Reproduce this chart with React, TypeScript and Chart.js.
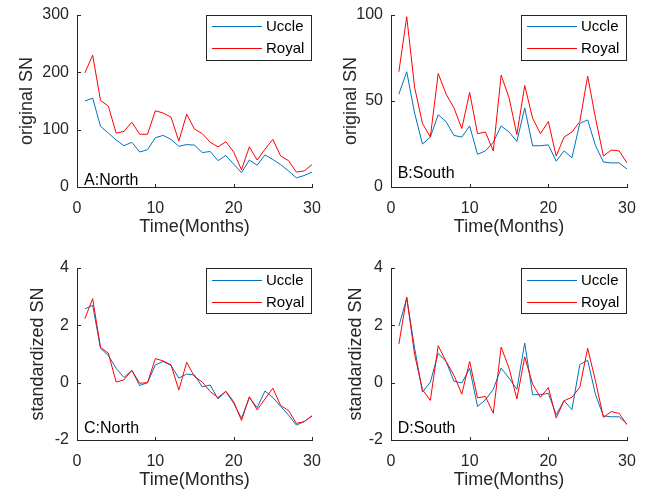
import React, { useEffect, useRef } from 'react';
import { Chart, registerables } from 'chart.js';

Chart.register(...registerables);

const FONT = '"Liberation Sans", Arial, Helvetica, sans-serif';
const AXIS = '#262626';
const BLUE = '#0072BD';
const RED = '#FF0000';

const months = [1, 2, 3, 4, 5, 6, 7, 8, 9, 10, 11, 12, 13, 14, 15, 16, 17, 18, 19, 20, 21, 22, 23, 24, 25, 26, 27, 28, 29, 30];
const seriesNames = ['Uccle', 'Royal'];
const seriesColors = [BLUE, RED];

const northUccleOrig = [150, 155, 106, 94, 82, 72, 78, 61, 65, 86, 90, 83, 71, 74, 73, 60, 62, 46, 55, 40, 25, 47, 38, 56, 48, 39, 28, 16, 20, 26];
const northRoyalOrig = [199, 230, 151, 141, 94, 97, 113, 92, 92, 133, 129, 122, 80, 127, 101, 93, 78, 70, 79, 61, 30, 70, 47, 66, 83, 54, 46, 26, 28, 39];
const southUccleOrig = [54, 67, 43, 25, 29, 42, 38, 30, 29, 35.5, 19, 21, 26, 35.5, 32, 26.5, 46, 24, 24, 24.5, 15, 21, 17, 37, 39, 24, 14.5, 14, 14, 10.5];
const southRoyalOrig = [67, 99, 58, 37, 29, 66, 54, 46, 34, 55, 31, 32, 21, 65, 52, 30.5, 59, 40, 31, 38, 18, 29, 32, 38, 64.5, 40, 18, 21.5, 21, 14];
const northUccleStd = [2.57, 2.7, 1.2, 0.95, 0.5, 0.18, 0.43, -0.1, 0, 0.62, 0.74, 0.6, 0.16, 0.3, 0.27, -0.15, -0.08, -0.57, -0.31, -0.72, -1.24, -0.52, -0.87, -0.29, -0.52, -0.83, -1.13, -1.48, -1.36, -1.16];
const northRoyalStd = [2.23, 2.93, 1.23, 1.03, 0.02, 0.1, 0.43, -0.02, 0, 0.84, 0.76, 0.62, -0.26, 0.71, 0.21, 0.02, -0.31, -0.52, -0.3, -0.66, -1.32, -0.49, -0.95, -0.57, -0.19, -0.8, -0.97, -1.42, -1.36, -1.16];
const southUccleStd = [1.97, 2.95, 1.21, -0.33, 0.02, 1.02, 0.74, 0.05, -0.01, 0.5, -0.83, -0.6, -0.23, 0.51, 0.16, -0.23, 1.38, -0.42, -0.42, -0.37, -1.12, -0.63, -0.94, 0.63, 0.78, -0.42, -1.16, -1.19, -1.19, -1.44];
const southRoyalStd = [1.35, 2.99, 0.98, -0.24, -0.62, 1.29, 0.74, 0.26, -0.4, 0.74, -0.53, -0.48, -1.07, 1.24, 0.51, -0.57, 0.9, -0.05, -0.51, -0.17, -1.23, -0.63, -0.51, -0.16, 1.2, 0.05, -1.21, -1.01, -1.07, -1.47];

const xRange = [0, 30, 10];
const origNorthRange = [0, 300, 100];
const origSouthRange = [0, 100, 50];
const stdRange = [-2, 4, 2];

const decorPlugin = {
  id: 'matlabDecor',
  afterDraw(chart: any, _args: any, opts: any) {
    const { ctx, chartArea, scales } = chart;
    const xs = scales.x;
    const ys = scales.y;
    ctx.save();
    ctx.globalAlpha = 1;
    ctx.fillStyle = AXIS;
    xs.ticks.forEach((t: any) => {
      const px = Math.round(xs.getPixelForValue(t.value));
      ctx.fillRect(px, Math.round(chartArea.bottom) - 3, 1, 3);
    });
    ys.ticks.forEach((t: any) => {
      const py = Math.round(ys.getPixelForValue(t.value));
      ctx.fillRect(Math.round(chartArea.left), py, 4, 1);
    });

    ctx.fillStyle = '#000';
    ctx.font = `16px ${FONT}`;
    ctx.textAlign = 'left';
    ctx.textBaseline = 'alphabetic';
    ctx.fillText(opts.label, xs.getPixelForValue(opts.labelAt[0]), ys.getPixelForValue(opts.labelAt[1]));

    const w = 106;
    const h = 45;
    const left = Math.round(chartArea.right - w);
    const top = Math.round(chartArea.top);
    ctx.fillStyle = '#fff';
    ctx.fillRect(left, top, w, h);
    ctx.fillStyle = AXIS;
    ctx.fillRect(left, top, w, 1);
    ctx.fillRect(left, top + h, w, 1);
    ctx.fillRect(left, top, 1, h + 1);
    ctx.fillRect(left + w - 1, top, 1, h + 1);
    const y0 = top + 11 + (top % 2 === 0 ? 1 : 0);
    for (let i = 0; i < seriesNames.length; i++) {
      const y = y0 + i * 22;
      ctx.fillStyle = seriesColors[i];
      ctx.fillRect(left + 6, y, 50, 1);
      ctx.fillStyle = '#000';
      ctx.font = `15px ${FONT}`;
      ctx.textBaseline = 'middle';
      ctx.fillText(seriesNames[i], left + 60, y + 0.5);
    }
    ctx.restore();
  },
};

type PanelProps = {
  left: number;
  top: number;
  width: number;
  height: number;
  uccle: number[];
  royal: number[];
  yRange: number[];
  yTitle: string;
  label: string;
  labelAt: number[];
  yWidth: number;
  xHeight: number;
  padTop: number;
  padRight: number;
  yTitlePad: number;
  xTitlePad: number;
};

function Panel(p: PanelProps) {
  const ref = useRef<HTMLCanvasElement | null>(null);
  useEffect(() => {
    if (!ref.current) return;
    const chart = new Chart(ref.current, {
      type: 'line',
      data: {
        datasets: [
          {
            label: seriesNames[0],
            data: months.map((m, i) => ({ x: m, y: p.uccle[i] })),
            borderColor: seriesColors[0],
            borderWidth: 1,
            pointRadius: 0,
            tension: 0,
            fill: false,
            order: 1,
          },
          {
            label: seriesNames[1],
            data: months.map((m, i) => ({ x: m, y: p.royal[i] })),
            borderColor: seriesColors[1],
            borderWidth: 1,
            pointRadius: 0,
            tension: 0,
            fill: false,
            order: 0,
          },
        ],
      },
      options: {
        animation: false,
        responsive: false,
        devicePixelRatio: 1,
        layout: { padding: { left: 0, right: p.padRight, top: p.padTop, bottom: 0 } },
        plugins: {
          legend: { display: false },
          tooltip: { enabled: false },
          matlabDecor: { label: p.label, labelAt: p.labelAt },
        } as any,
        scales: {
          x: {
            type: 'linear',
            min: xRange[0],
            max: xRange[1],
            grid: { display: false, drawTicks: false },
            border: { display: true, color: AXIS, width: 1 },
            ticks: {
              stepSize: xRange[2],
              padding: 11.5,
              color: AXIS,
              font: { size: 16, family: FONT },
              maxRotation: 0,
              autoSkip: false,
            },
            title: {
              display: true,
              text: 'Time(Months)',
              color: AXIS,
              font: { size: 18, family: FONT },
              padding: { top: 0, bottom: p.xTitlePad },
            },
            afterFit: (s: any) => {
              s.height = p.xHeight;
              s.paddingLeft = 0;
              s.paddingRight = 0;
            },
          },
          y: {
            type: 'linear',
            min: p.yRange[0],
            max: p.yRange[1],
            grid: { display: false, drawTicks: false },
            border: { display: true, color: AXIS, width: 1 },
            ticks: {
              stepSize: p.yRange[2],
              padding: 8,
              color: AXIS,
              font: { size: 16, family: FONT },
              autoSkip: false,
            },
            title: {
              display: true,
              text: p.yTitle,
              color: AXIS,
              font: { size: 18, family: FONT },
              padding: { top: p.yTitlePad, bottom: 0 },
            },
            afterFit: (s: any) => {
              s.width = p.yWidth;
              s.paddingTop = 0;
              s.paddingBottom = 0;
            },
          },
        },
      } as any,
      plugins: [decorPlugin as any],
    });
    return () => chart.destroy();
  }, []);
  return (
    <canvas
      ref={ref}
      width={p.width}
      height={p.height}
      style={{ position: 'absolute', left: p.left, top: p.top, width: p.width, height: p.height }}
    />
  );
}

export default function App() {
  return (
    <div style={{ position: 'absolute', left: 0, top: 0, width: 645, height: 497, background: '#fff', overflow: 'hidden' }}>
      <Panel left={0} top={0} width={322} height={250} uccle={northUccleOrig} royal={northRoyalOrig}
        yRange={origNorthRange} yTitle="original SN" label="A:North" labelAt={[0.9, 4]}
        yWidth={77} xHeight={63} padTop={15} padRight={10} yTitlePad={16.5} xTitlePad={12} />
      <Panel left={322} top={0} width={323} height={250} uccle={southUccleOrig} royal={southRoyalOrig}
        yRange={origSouthRange} yTitle="original SN" label="B:South" labelAt={[0.85, 5]}
        yWidth={69} xHeight={63} padTop={15} padRight={18} yTitlePad={18.2} xTitlePad={12} />
      <Panel left={0} top={250} width={322} height={247} uccle={northUccleStd} royal={northRoyalStd}
        yRange={stdRange} yTitle="standardized SN" label="C:North" labelAt={[0.9, -1.76]}
        yWidth={77} xHeight={57} padTop={18} padRight={10} yTitlePad={27.5} xTitlePad={6} />
      <Panel left={322} top={250} width={323} height={247} uccle={southUccleStd} royal={southRoyalStd}
        yRange={stdRange} yTitle="standardized SN" label="D:South" labelAt={[0.85, -1.76]}
        yWidth={69} xHeight={57} padTop={18} padRight={18} yTitlePad={23.2} xTitlePad={6} />
    </div>
  );
}
